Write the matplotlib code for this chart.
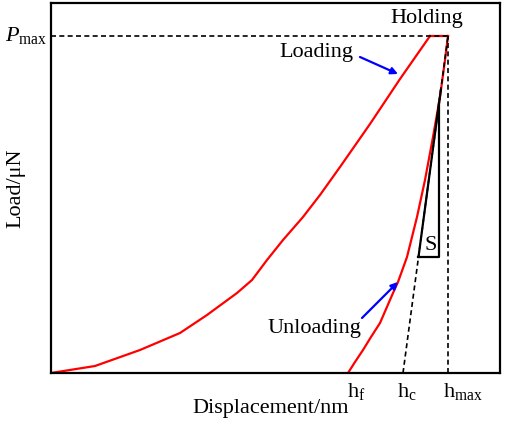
"""Nanoindentation load-displacement schematic (loading / holding / unloading)."""

import matplotlib

matplotlib.use("Agg")
import matplotlib.pyplot as plt

plt.rcParams["font.family"] = ["Liberation Serif", "DejaVu Serif"]
plt.rcParams["mathtext.fontset"] = "custom"
plt.rcParams["mathtext.rm"] = "Liberation Serif"
plt.rcParams["mathtext.it"] = "Liberation Serif:italic"

# curve values (arbitrary units)
load_h = [0, 44, 89, 129, 156, 186, 201, 216, 232, 252, 269, 289, 319, 349, 379]
load_p = [0, 7, 23, 40, 58, 80, 93, 113, 133, 156, 178, 206, 249, 294, 337]
unload_h = [397, 394, 389, 382, 374, 366, 356, 347, 342, 329, 320, 312, 304, 297]
unload_p = [337, 313, 276, 236, 193, 156, 116, 91, 80, 50, 36, 23, 11, 0]

p_max = 337
h_max = 397
h_c = 352
s_bottom = 116      # load at the foot of the stiffness triangle
s_apex_h = 388      # displacement of the triangle's vertical leg
tangent_solid_top = 283

depth_labels = [r"$\mathrm{h_f}$", r"$\mathrm{h_c}$", r"$\mathrm{h_{max}}$"]
depth_label_x = [296, 346, 392]

RED = "#ff0000"
BLUE = "#0000ff"


def tangent_h(p):
    """Displacement on the initial unloading tangent at load p."""
    return h_c + (h_max - h_c) * p / p_max


fig = plt.figure(figsize=(5.05, 4.22), dpi=100)
ax = fig.add_axes([51 / 505, 49 / 422, 449 / 505, 370 / 422])
ax.set_xlim(0, 449)
ax.set_ylim(0, 370)
ax.set_xticks([]); ax.set_yticks([])
for sp in ax.spines.values():
    sp.set_linewidth(1.6)

# loading, holding and unloading branches
ax.plot(load_h, load_p, color=RED, lw=1.6)
ax.plot([load_h[-1], h_max], [p_max, p_max], color=RED, lw=1.6)
ax.plot(unload_h, unload_p, color=RED, lw=1.6)

# reference lines
dash = dict(color="black", lw=1.2, ls=(0, (3, 2)))
ax.plot([0, h_max], [p_max, p_max], **dash)
ax.plot([h_max, h_max], [0, p_max], **dash)
ax.plot([h_c, h_max], [0, p_max], **dash)

# stiffness triangle S
apex_p = (s_apex_h - h_c) / (h_max - h_c) * p_max
ax.plot([tangent_h(tangent_solid_top), tangent_h(s_bottom)],
        [tangent_solid_top, s_bottom], color="black", lw=1.6)
ax.plot([tangent_h(s_bottom), s_apex_h, s_apex_h],
        [s_bottom, s_bottom, apex_p], color="black", lw=1.6)
ax.text(380, 127, "S", fontsize=16, ha="center", va="center")

# annotations
arrow = dict(arrowstyle="-|>", color=BLUE, lw=1.6, mutation_scale=10,
             shrinkA=0, shrinkB=0)
ax.text(376, 355, "Holding", fontsize=16, ha="center", va="center")
ax.text(265, 320, "Loading", fontsize=16, ha="center", va="center")
ax.annotate("", xy=(347, 299), xytext=(309, 316), arrowprops=arrow)
ax.text(263, 45, "Unloading", fontsize=16, ha="center", va="center")
ax.annotate("", xy=(347, 91), xytext=(311, 55), arrowprops=arrow)

# axis labels drawn by hand (no ticks on this schematic)
ax.text(-4, p_max, r"$P_{\mathrm{max}}$", fontsize=16, ha="right", va="center",
        clip_on=False)
for x, lab in zip(depth_label_x, depth_labels):
    ax.text(x, -18, lab, fontsize=16, ha="left", va="center", clip_on=False)
ax.text(0.49, -0.095, "Displacement/nm", fontsize=16, ha="center", va="center",
        transform=ax.transAxes)
ax.text(-0.078, 0.5, "Load/μN", fontsize=16, rotation=90, ha="center",
        va="center", transform=ax.transAxes)

fig.savefig("out.png", dpi=100)
plt.close(fig)
